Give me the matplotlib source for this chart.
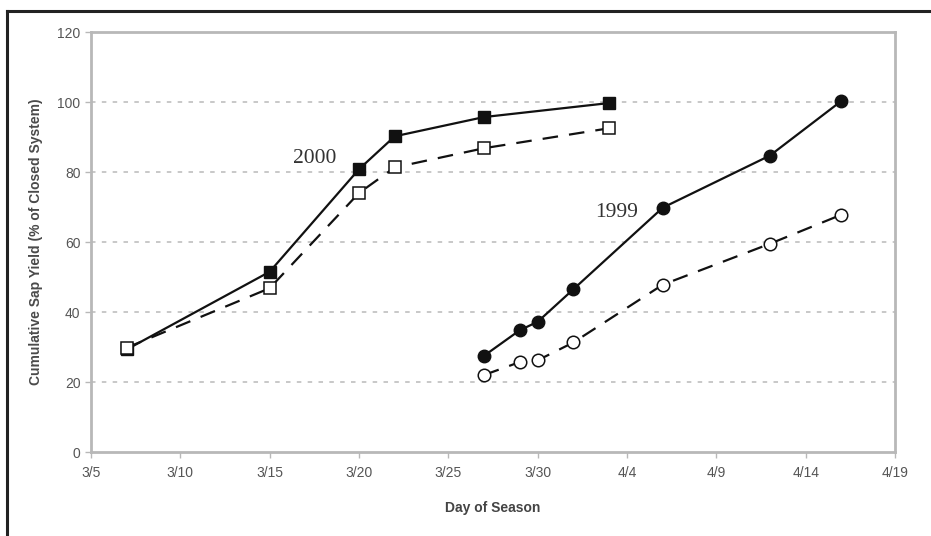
import matplotlib
matplotlib.use("Agg")
import matplotlib.pyplot as plt
from matplotlib.lines import Line2D
import datetime as dt

# ---- data ----
dates_2000 = ["3/7", "3/15", "3/20", "3/22", "3/27", "4/3"]
y2000_solid = [29.3, 51.5, 80.8, 90.2, 95.7, 99.7]
y2000_open = [29.8, 46.8, 74.0, 81.3, 86.8, 92.5]

dates_1999 = ["3/27", "3/29", "3/30", "4/1", "4/6", "4/12", "4/16"]
y1999_solid = [27.5, 34.8, 37.2, 46.5, 69.8, 84.7, 100.3]
y1999_open = [22.0, 25.7, 26.2, 31.3, 47.8, 59.5, 67.8]

xtick_labels = ["3/5", "3/10", "3/15", "3/20", "3/25", "3/30", "4/4", "4/9", "4/14", "4/19"]
yticks = [0, 20, 40, 60, 80, 100, 120]

base = dt.date(2000, 3, 5)


def day(s):
    m, d = s.split("/")
    return (dt.date(2000, int(m), int(d)) - base).days


x2000 = [day(s) for s in dates_2000]
x1999 = [day(s) for s in dates_1999]
xticks = [day(s) for s in xtick_labels]

fig = plt.figure(figsize=(9.31, 5.36), dpi=100)
ax = fig.add_axes([91 / 931, 1 - 452 / 536, (895 - 91) / 931, (452 - 32) / 536])

grid_c = "#c4c4c4"
for yv in yticks[1:-1]:
    ax.axhline(yv, color=grid_c, lw=1.3, ls=(0, (2.5, 3.5)), zorder=1)

ax.plot(x2000, y2000_solid, color="#111111", lw=1.6, marker="s", ms=9,
        mfc="#111111", mec="#111111", zorder=3)
ax.plot(x2000, y2000_open, color="#111111", lw=1.6, ls=(0, (7, 5)), marker="s",
        ms=9, mfc="white", mec="#111111", mew=1.1, zorder=4)
ax.plot(x1999, y1999_solid, color="#111111", lw=1.6, marker="o", ms=9,
        mfc="#111111", mec="#111111", zorder=3)
ax.plot(x1999, y1999_open, color="#111111", lw=1.6, ls=(0, (7, 5)), marker="o",
        ms=9, mfc="white", mec="#111111", mew=1.1, zorder=4)

ax.text(12.5, 83.8, "2000", family="Liberation Serif", fontsize=15.5,
        color="#333333", ha="center", va="center")
ax.text(29.4, 68.3, "1999", family="Liberation Serif", fontsize=15.5,
        color="#333333", ha="center", va="center")

ax.set_xlim(0, 45)
ax.set_ylim(0, 120)
ax.set_xticks(xticks)
ax.set_xticklabels(xtick_labels)
ax.set_yticks(yticks)

for s in ax.spines.values():
    s.set_color("#b8b8b8")
    s.set_linewidth(2)

ax.tick_params(axis="both", colors="#b8b8b8", labelcolor="#555555",
               labelsize=10, length=4, width=1, direction="out")
ax.tick_params(axis="x", pad=6)
for lab in ax.get_xticklabels() + ax.get_yticklabels():
    lab.set_family("Liberation Sans")

ax.set_xlabel("Day of Season", fontsize=10, fontweight="bold", color="#444444",
              family="Liberation Sans", labelpad=15)
ax.set_ylabel("Cumulative Sap Yield (% of Closed System)", fontsize=10,
              fontweight="bold", color="#4a4a4a", family="Liberation Sans",
              labelpad=10)

# outer frame
fig.add_artist(Line2D([7 / 931, 1.0], [1 - 11 / 536, 1 - 11 / 536],
                      transform=fig.transFigure, color="#222222", lw=2.2))
fig.add_artist(Line2D([7 / 931, 7 / 931], [0, 1 - 11 / 536],
                      transform=fig.transFigure, color="#222222", lw=2.2))

fig.savefig("out.png", dpi=100)
